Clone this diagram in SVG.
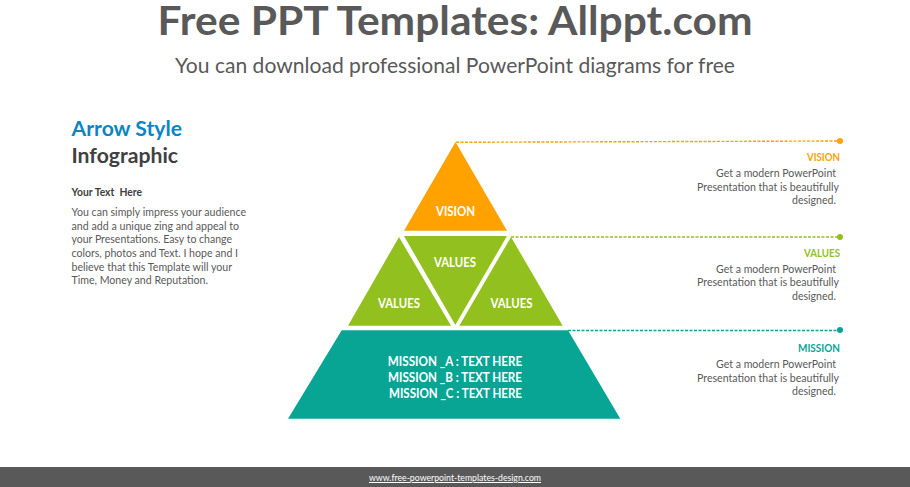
<svg xmlns="http://www.w3.org/2000/svg" width="910" height="487" viewBox="0 0 910 487">
<style>
text{font-family:Lato,"Liberation Sans",sans-serif}
.t{text-anchor:middle;fill:#595959}
.w{fill:#fff;font-size:12.5px;font-weight:700;text-anchor:middle}
.h{font-size:11.5px;font-weight:700;text-anchor:end}
.b{font-size:11.2px;fill:#595959}
.r{text-anchor:end}
.c{fill:none;stroke-width:1.4;stroke-dasharray:3 1.5}
</style>
<rect width="910" height="487" fill="#fff"/>
<g id="header">
<text class="t" x="455" y="34.500" font-size="41" font-weight="700" textLength="595" lengthAdjust="spacingAndGlyphs">Free PPT Templates: Allppt.com</text>
<text class="t" x="455" y="73" font-size="20.500" textLength="560" lengthAdjust="spacingAndGlyphs">You can download professional PowerPoint diagrams for free</text>
</g>
<g id="intro">
<text x="71.500" y="136" font-size="21.500" font-weight="700" fill="#0b85c3" textLength="110.500" lengthAdjust="spacingAndGlyphs">Arrow Style</text>
<text x="71.500" y="163" font-size="21.500" font-weight="700" fill="#404040" textLength="106.500" lengthAdjust="spacingAndGlyphs">Infographic</text>
<text x="71.500" y="196" font-size="11" font-weight="700" fill="#404040" xml:space="preserve" textLength="70.500" lengthAdjust="spacingAndGlyphs">Your Text  Here</text>
<text class="b" x="71.500" y="216" textLength="174.500" lengthAdjust="spacingAndGlyphs">You can simply impress your audience</text>
<text class="b" x="71.500" y="230" textLength="167.500" lengthAdjust="spacingAndGlyphs">and add a unique zing and appeal to</text>
<text class="b" x="71.500" y="243" textLength="160.500" lengthAdjust="spacingAndGlyphs">your Presentations. Easy to change</text>
<text class="b" x="71.500" y="257" textLength="166.500" lengthAdjust="spacingAndGlyphs">colors, photos and Text. I hope and I</text>
<text class="b" x="71.500" y="270.500" textLength="160.500" lengthAdjust="spacingAndGlyphs">believe that this Template will your</text>
<text class="b" x="71.500" y="284" textLength="136.500" lengthAdjust="spacingAndGlyphs">Time, Money and Reputation.</text>
</g>
<g id="connectors">
<path class="c" stroke="#ffa200" d="M456 142.300 L840 141"/>
<path class="c" stroke="#92c01f" d="M511 237 H840"/>
<path class="c" stroke="#08a595" d="M568 330.500 H840"/>
<circle cx="840" cy="141" r="3" fill="#ffa200"/>
<circle cx="840" cy="237" r="3" fill="#92c01f"/>
<circle cx="840" cy="330" r="3" fill="#08a595"/>
</g>
<g id="vision">
<polygon points="455.500,142 507,230.700 404,230.700" fill="#ffa200"/>
<text class="w" x="455.500" y="215.500" textLength="39" lengthAdjust="spacingAndGlyphs">VISION</text>
</g>
<g id="values-left">
<polygon points="399,237 451,325.700 348,325.700" fill="#92c01f"/>
<text class="w" x="399" y="307.500" textLength="42" lengthAdjust="spacingAndGlyphs">VALUES</text>
</g>
<g id="values-center">
<polygon points="404,236 507,236 455.300,325" fill="#92c01f"/>
<text class="w" x="455" y="266.500" textLength="42" lengthAdjust="spacingAndGlyphs">VALUES</text>
</g>
<g id="values-right">
<polygon points="511,237 562.700,325.700 459.300,325.700" fill="#92c01f"/>
<text class="w" x="511.500" y="307.500" textLength="42" lengthAdjust="spacingAndGlyphs">VALUES</text>
</g>
<g id="mission">
<polygon points="341.700,330.300 568,330.300 620.300,418.700 288,418.700" fill="#08a595"/>
<text class="w" x="455" y="365.500" textLength="134.500" lengthAdjust="spacingAndGlyphs">MISSION _A : TEXT HERE</text>
<text class="w" x="455" y="381.500" textLength="134" lengthAdjust="spacingAndGlyphs">MISSION _B : TEXT HERE</text>
<text class="w" x="455.500" y="397.500" textLength="133" lengthAdjust="spacingAndGlyphs">MISSION _C : TEXT HERE</text>
</g>
<g id="label-vision">
<text class="h" x="840" y="161" fill="#ffa200" textLength="33" lengthAdjust="spacingAndGlyphs">VISION</text>
<text class="b r" x="836" y="177" textLength="120" lengthAdjust="spacingAndGlyphs">Get a modern PowerPoint</text>
<text class="b r" x="839" y="190.500" textLength="142" lengthAdjust="spacingAndGlyphs">Presentation that is beautifully</text>
<text class="b r" x="836" y="204" textLength="44" lengthAdjust="spacingAndGlyphs">designed.</text>
</g>
<g id="label-values">
<text class="h" x="840" y="256.500" fill="#92c01f" textLength="36" lengthAdjust="spacingAndGlyphs">VALUES</text>
<text class="b r" x="836" y="272.500" textLength="120" lengthAdjust="spacingAndGlyphs">Get a modern PowerPoint</text>
<text class="b r" x="839" y="286" textLength="142" lengthAdjust="spacingAndGlyphs">Presentation that is beautifully</text>
<text class="b r" x="836" y="299.500" textLength="44" lengthAdjust="spacingAndGlyphs">designed.</text>
</g>
<g id="label-mission">
<text class="h" x="840" y="352" fill="#08a595" textLength="42" lengthAdjust="spacingAndGlyphs">MISSION</text>
<text class="b r" x="836" y="368" textLength="120" lengthAdjust="spacingAndGlyphs">Get a modern PowerPoint</text>
<text class="b r" x="839" y="381.500" textLength="142" lengthAdjust="spacingAndGlyphs">Presentation that is beautifully</text>
<text class="b r" x="836" y="395" textLength="44" lengthAdjust="spacingAndGlyphs">designed.</text>
</g>
<g id="footer">
<rect y="467" width="910" height="20" fill="#595959"/>
<text x="455" y="481" font-size="10" fill="#fff" text-anchor="middle" text-decoration="underline" textLength="172" lengthAdjust="spacingAndGlyphs">www.free-powerpoint-templates-design.com</text>
</g>
</svg>
